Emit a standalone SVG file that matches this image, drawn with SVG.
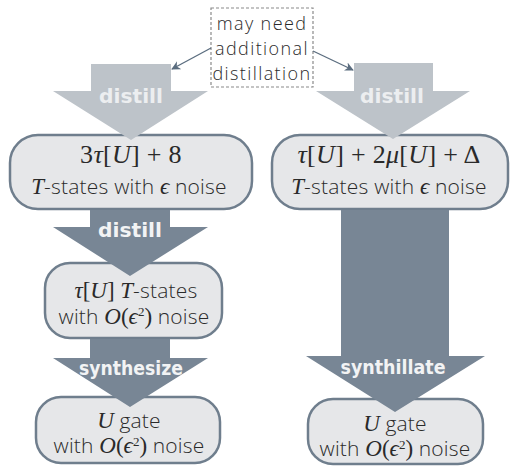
<svg xmlns="http://www.w3.org/2000/svg" width="518" height="466" viewBox="0 0 518 466">
<defs>
<marker id="ah" viewBox="0 0 10 10" refX="9" refY="5" markerWidth="9" markerHeight="9" markerUnits="userSpaceOnUse" orient="auto">
<path d="M0,0 L10,5 L0,10 L3,5 Z" fill="#5b6d7f"/>
</marker>
<style>
.box{fill:#e6e7e9;stroke:#6f7e8d;stroke-width:2.5}
.light{fill:#bdc3c9}
.dark{fill:#788695}
.lbl{font-family:"DejaVu Sans",sans-serif;font-weight:bold;font-size:19px;text-anchor:middle}
.lbl-l{fill:#eceef0}
.lbl-d{fill:#f2f3f4}
.t{font-family:"Open Sans","DejaVu Sans",sans-serif;font-weight:300;font-size:21px;letter-spacing:0.2px;fill:#2a2a2a;text-anchor:middle}
.big{font-size:26px;letter-spacing:0.3px}
.m{font-family:"Liberation Serif","DejaVu Serif",serif;font-style:italic;font-weight:normal}
.r{font-family:"Liberation Serif","DejaVu Serif",serif;font-style:normal;font-weight:normal}
.mm{font-size:23px;letter-spacing:0}
.sup{font-size:13px;letter-spacing:0}
.note{font-family:"Open Sans","DejaVu Sans",sans-serif;font-weight:300;font-size:18px;letter-spacing:1.4px;fill:#2a2a2a;text-anchor:middle}
.conn{stroke:#5b6d7f;stroke-width:1.3;fill:none}
</style>
</defs>
<rect width="518" height="466" fill="#ffffff"/>

<g id="box-top-left">
<rect class="box" x="10" y="135" width="242" height="74" rx="28"/>
<text class="t big" x="131" y="163"><tspan class="r">3</tspan><tspan class="m">τ</tspan><tspan class="r">[</tspan><tspan class="m">U</tspan><tspan class="r">] + 8</tspan></text>
<text class="t" x="129" y="194"><tspan class="m mm">T</tspan>-states with <tspan class="m mm">ϵ</tspan>  noise</text>
</g>

<g id="box-top-right">
<rect class="box" x="272" y="135" width="236" height="74" rx="28"/>
<text class="t big" x="389" y="163"><tspan class="m">τ</tspan><tspan class="r">[</tspan><tspan class="m">U</tspan><tspan class="r">] + 2</tspan><tspan class="m">μ</tspan><tspan class="r">[</tspan><tspan class="m">U</tspan><tspan class="r">] + Δ</tspan></text>
<text class="t" x="389" y="194"><tspan class="m mm">T</tspan>-states with <tspan class="m mm">ϵ</tspan>  noise</text>
</g>

<g id="box-mid-left">
<rect class="box" x="45" y="263" width="177" height="75" rx="25"/>
<text class="t" x="136" y="298"><tspan class="m mm">τ</tspan><tspan class="r mm">[</tspan><tspan class="m mm">U</tspan><tspan class="r mm">]</tspan> <tspan class="m mm">T</tspan>-states</text>
<text class="t" x="134" y="324">with <tspan class="m mm">O</tspan><tspan class="r mm">(</tspan><tspan class="m mm">ϵ</tspan><tspan class="r sup" dy="-8">2</tspan><tspan class="r mm" dy="8">)</tspan> noise</text>
</g>

<g id="box-bottom-left">
<rect class="box" x="36" y="397" width="184" height="66" rx="25"/>
<text class="t" x="129" y="428"><tspan class="m mm">U</tspan> gate</text>
<text class="t" x="129" y="453">with <tspan class="m mm">O</tspan><tspan class="r mm">(</tspan><tspan class="m mm">ϵ</tspan><tspan class="r sup" dy="-7">2</tspan><tspan class="r mm" dy="7">)</tspan> noise</text>
</g>

<g id="box-bottom-right">
<rect class="box" x="308" y="399" width="175" height="65" rx="25"/>
<text class="t" x="395" y="431"><tspan class="m mm">U</tspan> gate</text>
<text class="t" x="395" y="456">with <tspan class="m mm">O</tspan><tspan class="r mm">(</tspan><tspan class="m mm">ϵ</tspan><tspan class="r sup" dy="-7">2</tspan><tspan class="r mm" dy="7">)</tspan> noise</text>
</g>

<g id="note">
<rect x="211" y="8" width="102" height="79" fill="#ffffff" stroke="#8a8a8a" stroke-width="1.2" stroke-dasharray="3,2"/>
<text class="note" x="262" y="30">may need</text>
<text class="note" x="262" y="55">additional</text>
<text class="note" x="262" y="80">distillation</text>
</g>

<g id="connectors">
<path class="light" d="M91,64 H171 V91 H208 L131,140 L53,91 H91 Z"/>
<text class="lbl lbl-l" x="131" y="103" textLength="64" lengthAdjust="spacingAndGlyphs">distill</text>
<path class="light" d="M354,63 H433 V91 H470 L393,139 L316,91 H354 Z"/>
<text class="lbl lbl-l" x="392" y="103" textLength="64" lengthAdjust="spacingAndGlyphs">distill</text>
<path class="dark" d="M90,210 H170 V227 H208 L130,276 L53,227 H90 Z"/>
<text class="lbl lbl-d" x="130" y="237" textLength="64" lengthAdjust="spacingAndGlyphs">distill</text>
<path class="dark" d="M90,339 H170 V358 H208 L130,407 L53,358 H90 Z"/>
<text class="lbl lbl-d" x="131" y="375" textLength="104" lengthAdjust="spacingAndGlyphs">synthesize</text>
<path class="dark" d="M341,210 H449 V356 H485 L395,412 L306,356 H341 Z"/>
<text class="lbl lbl-d" x="393" y="374" textLength="105" lengthAdjust="spacingAndGlyphs">synthillate</text>
<path class="conn" d="M211,48 L172,69" marker-end="url(#ah)"/>
<path class="conn" d="M313,51 L353,70" marker-end="url(#ah)"/>
</g>
</svg>
